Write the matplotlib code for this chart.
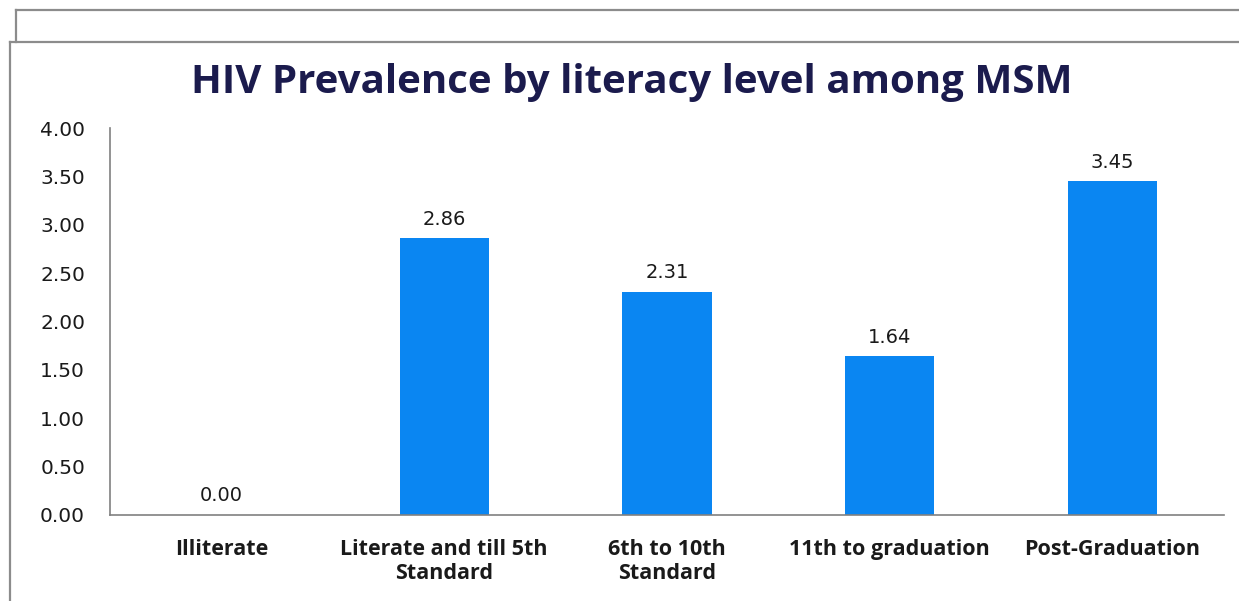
import matplotlib.pyplot as plt
from matplotlib.lines import Line2D

categories = ['Illiterate', 'Literate and till 5th\nStandard', '6th to 10th\nStandard',
              '11th to graduation', 'Post-Graduation']
values = [0.00, 2.86, 2.31, 1.64, 3.45]
yticks = [0.0, 0.5, 1.0, 1.5, 2.0, 2.5, 3.0, 3.5, 4.0]

W, H = 1239, 601
fig = plt.figure(figsize=(W / 100, H / 100), dpi=100)
fig.patch.set_facecolor('white')

# slide frames (pixel coords -> figure fraction)
def px(x, y):
    return x / W, 1 - y / H

frame = '#8c8c8c'
for (x0, y0), (x1, y1) in [((16, 10), (W, 10)), ((16, 10), (16, 42)),
                           ((10, 42), (W, 42)), ((10, 42), (10, H))]:
    a, b = px(x0, y0)
    c, d = px(x1, y1)
    fig.add_artist(Line2D([a, c], [b, d], color=frame, lw=1.6))

ax = fig.add_axes([110 / W, (H - 515) / H, (1224 - 110) / W, (515 - 128) / H])
x = range(len(categories))
bars = ax.bar(x, values, width=0.4, color='#0a86f2')

for xi, v in zip(x, values):
    ax.text(xi, v + 0.1, f'{v:.2f}', ha='center', va='bottom',
            fontsize=14, family='DejaVu Sans', color='#1a1a1a')

ax.set_xlim(-0.5, 4.5)
ax.set_ylim(0, 4)
ax.set_yticks(yticks)
ax.set_yticklabels([f'{t:.2f}' for t in yticks], fontsize=14.5, family='DejaVu Sans',
                   color='#1a1a1a')
ax.set_xticks(list(x))
ax.set_xticklabels(categories, fontsize=15.5, family='Open Sans', fontweight='bold',
                   color='#1a1a1a', linespacing=1.2)
ax.tick_params(axis='y', length=0, pad=18)
ax.tick_params(axis='x', length=0, pad=17)

for s in ['top', 'right']:
    ax.spines[s].set_visible(False)
for s in ['left', 'bottom']:
    ax.spines[s].set_color('#808080')
    ax.spines[s].set_linewidth(1.2)

fig.text(632 / W, 1 - 83 / H, 'HIV Prevalence by literacy level among MSM',
         ha='center', va='center', fontsize=29, family='Open Sans',
         fontweight='bold', color='#1b1b4d')

fig.savefig('out.png', dpi=100)
